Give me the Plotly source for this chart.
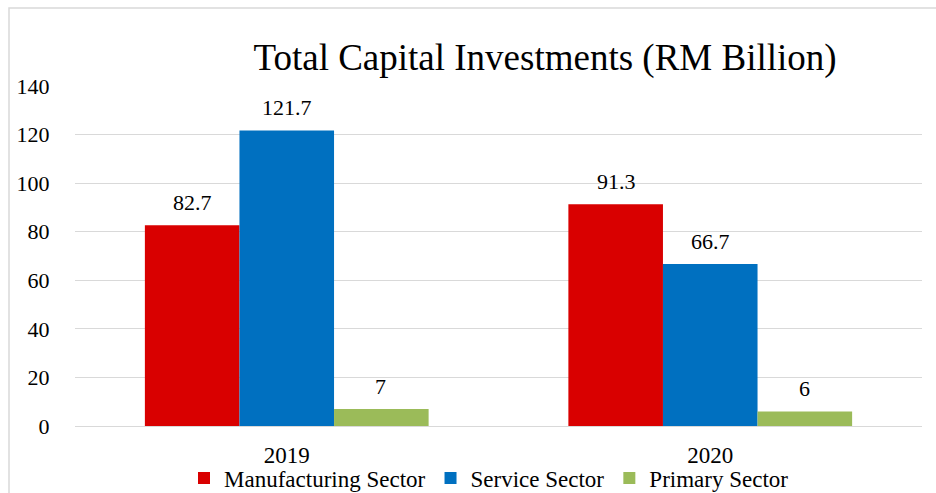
import plotly.graph_objects as go

# Data
years = ["2019", "2020"]
sectors = ["Manufacturing Sector", "Service Sector", "Primary Sector"]
manufacturing = [82.7, 91.3]
service = [121.7, 66.7]
primary = [7, 6]
colors = ["#D90000", "#0070C0", "#9BBB59"]

series = [manufacturing, service, primary]

FONT = "Liberation Serif"

fig = go.Figure()
for name, vals, col in zip(sectors, series, colors):
    fig.add_trace(go.Bar(
        name=name, x=years, y=vals,
        marker=dict(color=col, line=dict(width=0)),
    ))

# Value labels above each bar; category positions given by index so the
# year-like names are not read as numeric coordinates
bar_px = 94
annotations = []
for i, vals in enumerate(series):
    for k, v in enumerate(vals):
        annotations.append(dict(
            x=k, y=v, xref="x", yref="y",
            text=f"{v:g}", showarrow=False,
            xshift=(i - 1) * bar_px, yshift=23,
            yanchor="middle",
            font=dict(family=FONT, size=22, color="#000000"),
        ))

# Plot-area geometry in pixels, used for the outer frame and placements
W, H = 936, 493
plot_l, plot_r, plot_t, plot_b = 75, 922, 86, 426
pw, ph = plot_r - plot_l, plot_b - plot_t
def px_x(p):
    return (p - plot_l) / pw
def px_y(p):
    return (plot_b - p) / ph

fig.update_layout(
    width=W, height=H,
    margin=dict(l=plot_l, r=W - plot_r, t=plot_t, b=H - plot_b),
    paper_bgcolor="white", plot_bgcolor="white",
    barmode="group", bargap=0.33, bargroupgap=0,
    font=dict(family=FONT, color="#000000"),
    title=dict(
        text="Total Capital Investments (RM Billion)",
        font=dict(family=FONT, size=37, color="#000000"),
        x=px_x(545), xref="paper", xanchor="center",
        y=1 - 57 / H, yref="container", yanchor="middle",
    ),
    xaxis=dict(
        type="category", range=[-0.5, 1.5], automargin=False,
        showgrid=False, showline=False,
        ticks="outside", ticklen=8, tickcolor="rgba(0,0,0,0)",
        tickfont=dict(family=FONT, size=23, color="#000000"),
    ),
    yaxis=dict(
        range=[0, 140], dtick=20, tick0=0, automargin=False,
        showgrid=True, gridcolor="#D9D9D9", gridwidth=1,
        zeroline=True, zerolinecolor="#D9D9D9", zerolinewidth=1,
        showline=False,
        ticks="outside", ticklen=20, tickcolor="rgba(0,0,0,0)",
        tickfont=dict(family=FONT, size=22, color="#000000"),
    ),
    legend=dict(
        orientation="h", xref="paper", x=px_x(489), xanchor="center",
        yref="container", y=1 - 478 / H, yanchor="middle",
        font=dict(family=FONT, size=23, color="#000000"),
        itemwidth=30, bgcolor="rgba(0,0,0,0)",
    ),
    annotations=annotations,
    shapes=[dict(
        type="rect", xref="paper", yref="paper",
        x0=px_x(9), x1=px_x(945), y0=px_y(505), y1=px_y(8),
        line=dict(color="#D9D9D9", width=1.5), fillcolor="rgba(0,0,0,0)",
        layer="below",
    )],
)

fig.write_html("out.html")
